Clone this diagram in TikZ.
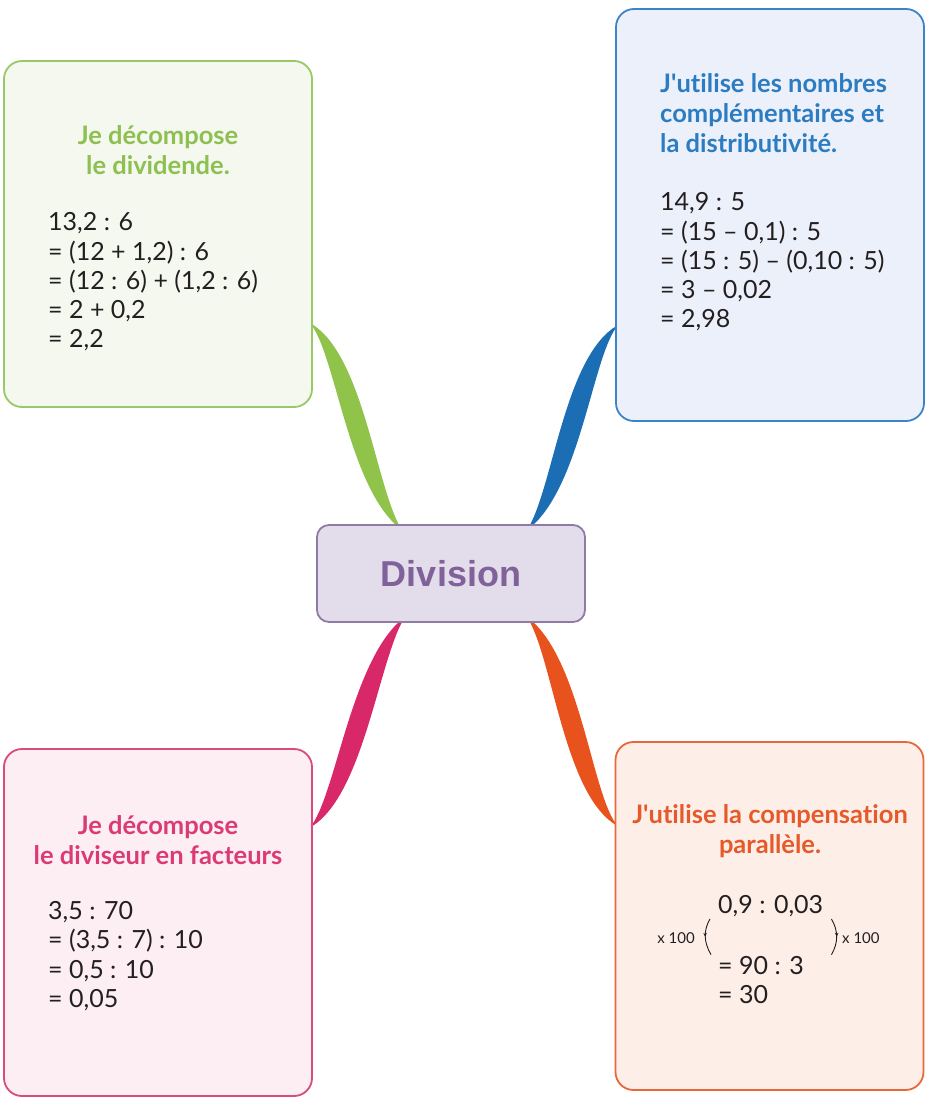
\documentclass[tikz,border=0pt]{standalone}
\usepackage{fontspec}
\setmainfont{Lato}[Ligatures=NoCommon]
\setsansfont{Liberation Sans}
\usetikzlibrary{calc,arrows.meta,decorations.markings,backgrounds}

\definecolor{encre}{RGB}{35,31,32}
\definecolor{vert}{RGB}{141,192,80}
\definecolor{vertbord}{RGB}{152,200,104}
\definecolor{vertfond}{RGB}{244,248,239}
\definecolor{vertbranche}{RGB}{143,195,74}
\definecolor{bleu}{RGB}{43,124,193}
\definecolor{bleubord}{RGB}{60,132,198}
\definecolor{bleufond}{RGB}{236,240,250}
\definecolor{bleubranche}{RGB}{28,110,180}
\definecolor{rose}{RGB}{219,58,116}
\definecolor{rosebord}{RGB}{217,74,126}
\definecolor{rosefond}{RGB}{252,238,242}
\definecolor{rosebranche}{RGB}{216,40,106}
\definecolor{orange}{RGB}{229,89,42}
\definecolor{orangebord}{RGB}{232,104,58}
\definecolor{orangefond}{RGB}{253,238,231}
\definecolor{orangebranche}{RGB}{232,82,28}
\definecolor{violet}{RGB}{128,97,154}
\definecolor{violetbord}{RGB}{143,123,163}
\definecolor{violetfond}{RGB}{227,221,235}

\begin{document}
\begin{tikzpicture}[x=1pt,y=-1pt,
    box/.style={draw, line width=1.8pt, rounded corners=18pt, minimum width=308pt, inner sep=0pt},
    titre/.style={font=\bfseries\fontsize{25.5}{30}\selectfont, inner sep=0pt},
    calcul/.style={font=\fontsize{25}{29.3}\selectfont, align=left, inner sep=0pt, text=encre},
    petit/.style={font=\fontsize{15}{17}\selectfont, inner sep=0pt, text=encre},
    paren/.style={encre, line width=0.9pt, postaction={decorate},
        decoration={markings, mark=at position 0.5 with {\arrow{Stealth[length=4pt,width=3.5pt]}}}}]
    \useasboundingbox (0,0) rectangle (933,1116);
    % Draw the four boxes and the centre
    \node[box, draw=vertbord, fill=vertfond, minimum height=346pt] (dividende) at (158,234) {};
    \node[box, draw=bleubord, fill=bleufond, minimum height=412pt] (distrib) at (770,215) {};
    \node[box, draw=rosebord, fill=rosefond, minimum height=347pt] (diviseur) at (158,922.5) {};
    \node[box, draw=orangebord, fill=orangefond, minimum height=348pt] (compens) at (769.5,916) {};
    \node[draw=violetbord, fill=violetfond, line width=1.8pt, rounded corners=12pt,
        minimum width=268pt, minimum height=97pt, text=violet,
        font=\sffamily\bfseries\fontsize{36}{40}\selectfont] (division) at (451,573.5) {Division};
    % Ends of the branches
    \coordinate (gA) at ($(dividende.east)+(-3,89)$);
    \coordinate (gB) at ($(division.north)+(-49,6)$);
    \coordinate (bA) at ($(distrib.west)+(3,110)$);
    \coordinate (bB) at ($(division.north)+(76,6)$);
    \coordinate (rA) at ($(diviseur.east)+(-3,-95)$);
    \coordinate (rB) at ($(division.south)+(-46,-6)$);
    \coordinate (oA) at ($(compens.west)+(3,-90)$);
    \coordinate (oB) at ($(division.south)+(76,-6)$);
    % Draw the branches under the boxes
    \begin{scope}[on background layer]
    \foreach \p/\sx/\sy/\c in {g/1/1/vertbranche, b/-1/1/bleubranche, r/1/-1/rosebranche, o/-1/-1/orangebranche}{
        \fill[\c] (\p A) .. controls +({54*\sx},{30*\sy}) and +({-26*\sx},{-40*\sy}) .. (\p B)
            .. controls +({-54*\sx},{-40*\sy}) and +({26*\sx},{30*\sy}) .. (\p A);
    }
    \end{scope}
    % Green box
    \node[titre, text=vert, align=center] (tdividende) at (158,150) {Je décompose\\le dividende.};
    \node[calcul, anchor=west] (cdividende) at (48,282) {13,2 : 6\\= (12 + 1,2) : 6\\= (12 : 6) + (1,2 : 6)\\= 2 + 0,2\\= 2,2};
    % Blue box
    \node[titre, text=bleu, align=left, anchor=west] (tdistrib) at (660,113) {J\textquotesingle utilise les nombres\\complémentaires et\\la distributivité.};
    \node[calcul, anchor=west] (cdistrib) at (660,262) {14,9 : 5\\= (15 \textendash{} 0,1) : 5\\= (15 : 5) \textendash{} (0,10 : 5)\\= 3 \textendash{} 0,02\\= 2,98};
    % Pink box
    \node[titre, text=rose, align=center] (tdiviseur) at (158,840.5) {Je décompose\\le diviseur en facteurs};
    \node[calcul, anchor=west] (cdiviseur) at (48,956) {3,5 : 70\\= (3,5 : 7) : 10\\= 0,5 : 10\\= 0,05};
    % Orange box
    \node[titre, text=orange, align=center] (tcompens) at (770,831.5) {J\textquotesingle utilise la compensation\\parallèle.};
    \node[calcul, anchor=west] (q1) at (718,906) {0,9 : 0,03};
    \node[calcul, anchor=west] (q2) at (718,966) {= 90 : 3};
    \node[calcul, anchor=west] (q3) at (718,995) {= 30};
    \draw[paren] ($(q1.south west)+(-8,2)$) .. controls +(-7,12) and +(-7,-12) .. ($(q2.north west)+(-7,-2)$);
    \draw[paren] ($(q1.south east)+(8,2)$) .. controls +(7,12) and +(7,-12) .. ($(q1.south east |- q2.north)+(8,-2)$);
    \node[petit, anchor=east] (fois1) at (695,938) {x 100};
    \node[petit, anchor=west] (fois2) at (842,938) {x 100};
\end{tikzpicture}
\end{document}
